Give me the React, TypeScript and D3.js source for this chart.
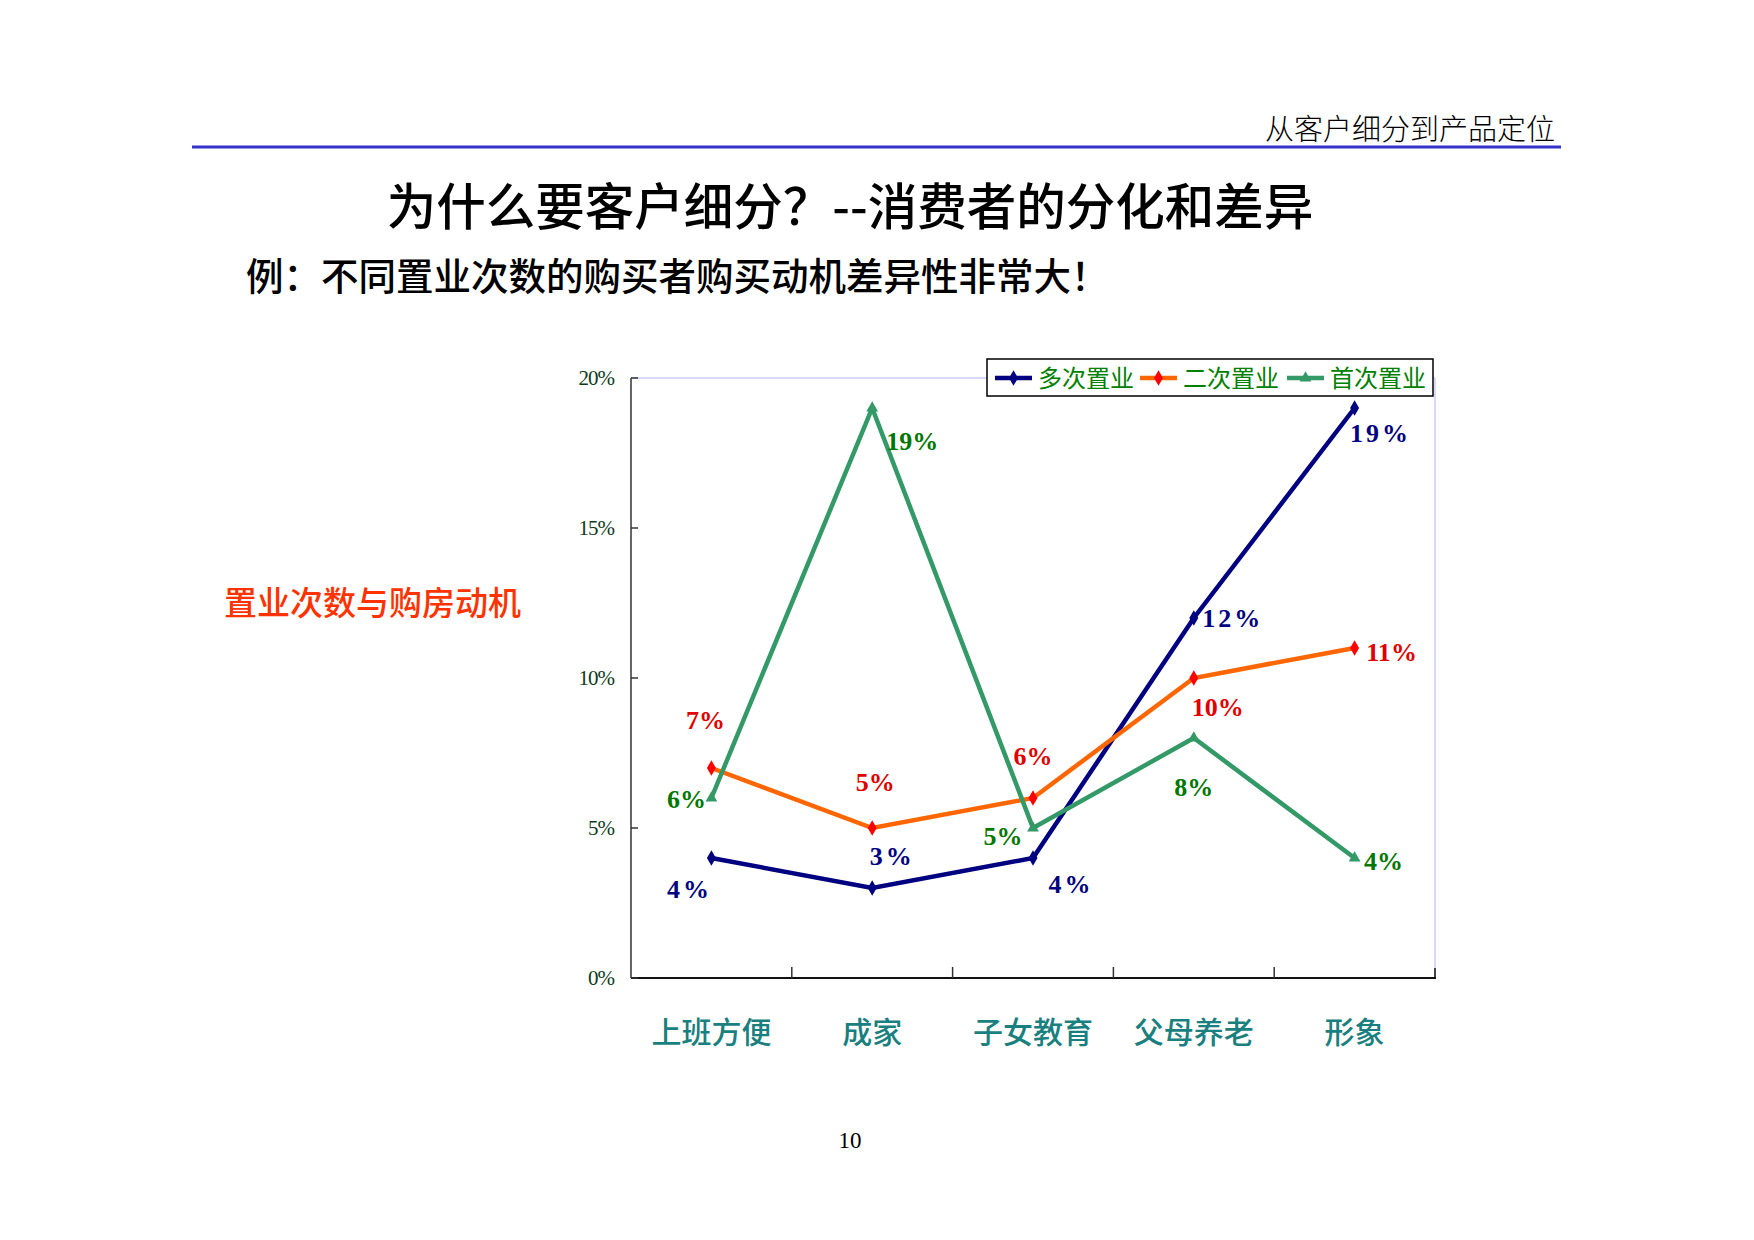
import React from "react";
import * as d3 from "d3";

const categories = ["上班方便", "成家", "子女教育", "父母养老", "形象"];
const seriesNames = ["多次置业", "二次置业", "首次置业"];
const multiValues = [4, 3, 4, 12, 19];
const secondValues = [7, 5, 6, 10, 11];
const firstValues = [6, 19, 5, 8, 4];
const yTicks = [0, 5, 10, 15, 20];

// label offsets (presentation) per series, per point, in px
const multiOffsets = [[-22, 31], [20, -32], [38, 26], [39, 0], [26, 25]];
const secondOffsets = [[-6, -48], [3, -46], [0, -42], [24, 29], [37, 4]];
const firstOffsets = [[-25, 1], [40, 33], [-30, 8], [0, 49], [29, 3]];

const W = 1754;
const H = 1240;
const plot = { left: 631, right: 1435, top: 378, bottom: 978 };

export default function App() {
  const x = d3
    .scaleBand<string>()
    .domain(categories)
    .range([plot.left, plot.right]);
  const y = d3.scaleLinear().domain([0, 20]).range([plot.bottom, plot.top]);
  const cx = (c: string) => (x(c) as number) + x.bandwidth() / 2;

  const line = d3
    .line<number>()
    .x((_, i) => cx(categories[i]))
    .y((d) => y(d));

  const series = [
    { name: seriesNames[0], values: multiValues, color: "#000080", marker: "diamond", markerColor: "#000080", labelColor: "#000080", offsets: multiOffsets, spacing: 3 },
    { name: seriesNames[1], values: secondValues, color: "#FF6600", marker: "diamond", markerColor: "#FF0000", labelColor: "#E00000", offsets: secondOffsets, spacing: 0 },
    { name: seriesNames[2], values: firstValues, color: "#339966", marker: "triangle", markerColor: "#339966", labelColor: "#007700", offsets: firstOffsets, spacing: 0 },
  ];

  const diamond = d3.symbol(d3.symbolDiamond, 70)();
  const triangle = d3.symbol(d3.symbolTriangle, 60)();

  const boundaries = categories.slice(1).map((c) => x(c) as number);

  const legendItems = [
    { x: 995, s: series[0] },
    { x: 1140, s: series[1] },
    { x: 1287, s: series[2] },
  ];

  return (
    <svg width={W} height={H} style={{ display: "block", position: "absolute", left: 0, top: 0, background: "#fff" }}>
      {/* header */}
      <text x={1555} y={140} textAnchor="end" fontFamily="'Noto Sans CJK SC'" fontSize={29} fill="#000" fontWeight={300}>从客户细分到产品定位</text>
      <line x1={192} x2={1561} y1={147} y2={147} stroke="#3333CC" strokeWidth={3} />

      {/* title */}
      <text x={850} y={225} textAnchor="middle" fontFamily="'Noto Sans CJK SC'" fontWeight={500} fontSize={49.5} fill="#000">为什么要客户细分？--消费者的分化和差异</text>
      <text x={246} y={290} fontFamily="'Noto Sans CJK SC'" fontWeight={500} fontSize={37.5} fill="#000">例：不同置业次数的购买者购买动机差异性非常大！</text>

      {/* side label */}
      <text x={224} y={615} fontFamily="'Noto Sans CJK SC'" fontWeight={500} fontSize={33} fill="#FF3300">置业次数与购房动机</text>

      {/* plot frame */}
      <line x1={plot.left} x2={plot.right} y1={plot.top} y2={plot.top} stroke="#CCCCFF" strokeWidth={1.5} />
      <line x1={plot.right} x2={plot.right} y1={plot.top} y2={plot.bottom} stroke="#CCCCFF" strokeWidth={1.5} />
      <line x1={plot.left} x2={plot.left} y1={plot.top} y2={plot.bottom} stroke="#333" strokeWidth={1.5} />
      <line x1={plot.left} x2={plot.right + 1} y1={plot.bottom} y2={plot.bottom} stroke="#111" strokeWidth={2} />
      <line x1={plot.right} x2={plot.right} y1={plot.bottom - 10} y2={plot.bottom} stroke="#111" strokeWidth={1.5} />

      {/* y ticks */}
      {yTicks.map((t) => (
        <g key={t}>
          <line x1={plot.left} x2={plot.left + 7} y1={y(t)} y2={y(t)} stroke="#333" strokeWidth={1.5} />
          <text x={plot.left - 17} y={y(t) + 7} textAnchor="end" fontFamily="'Liberation Serif'" fontSize={21} fill="#0F3A1A" letterSpacing={-1}>{t}%</text>
        </g>
      ))}

      {/* x ticks */}
      {boundaries.map((b, i) => (
        <line key={i} x1={b} x2={b} y1={plot.bottom - 11} y2={plot.bottom} stroke="#333" strokeWidth={1.5} />
      ))}
      {categories.map((c) => (
        <text key={c} x={cx(c)} y={1043} textAnchor="middle" fontFamily="'Noto Sans CJK SC'" fontWeight={500} fontSize={30} fill="#1A7F7F">{c}</text>
      ))}

      {/* series */}
      {series.map((s) => (
        <g key={s.name}>
          <path d={line(s.values) as string} fill="none" stroke={s.color} strokeWidth={4.5} strokeLinejoin="miter" />
          {s.values.map((v, i) => (
            <path key={i} d={(s.marker === "diamond" ? diamond : triangle) as string} transform={`translate(${cx(categories[i])},${y(v)})`} fill={s.markerColor} />
          ))}
          {s.values.map((v, i) => (
            <text
              key={"l" + i}
              x={cx(categories[i]) + s.offsets[i][0]}
              y={y(v) + s.offsets[i][1] + 9}
              textAnchor="middle"
              fontFamily="'Liberation Serif'"
              fontWeight={700}
              fontSize={26}
              letterSpacing={s.spacing}
              fill={s.labelColor}
            >
              {v}%
            </text>
          ))}
        </g>
      ))}

      {/* legend */}
      <rect x={987} y={359} width={446} height={37} fill="#fff" stroke="#000" strokeWidth={1.5} />
      {legendItems.map((it) => (
        <g key={it.s.name}>
          <line x1={it.x} x2={it.x + 37} y1={378} y2={378} stroke={it.s.color} strokeWidth={4.5} />
          <path d={(it.s.marker === "diamond" ? diamond : triangle) as string} transform={`translate(${it.x + 18.5},378)`} fill={it.s.markerColor} />
          <text x={it.x + 43} y={387} fontFamily="'Noto Sans CJK SC'" fontSize={24} fill="#008000">{it.s.name}</text>
        </g>
      ))}

      {/* page number */}
      <text x={850} y={1148} textAnchor="middle" fontFamily="'Liberation Serif'" fontSize={23} fill="#000">10</text>
    </svg>
  );
}
